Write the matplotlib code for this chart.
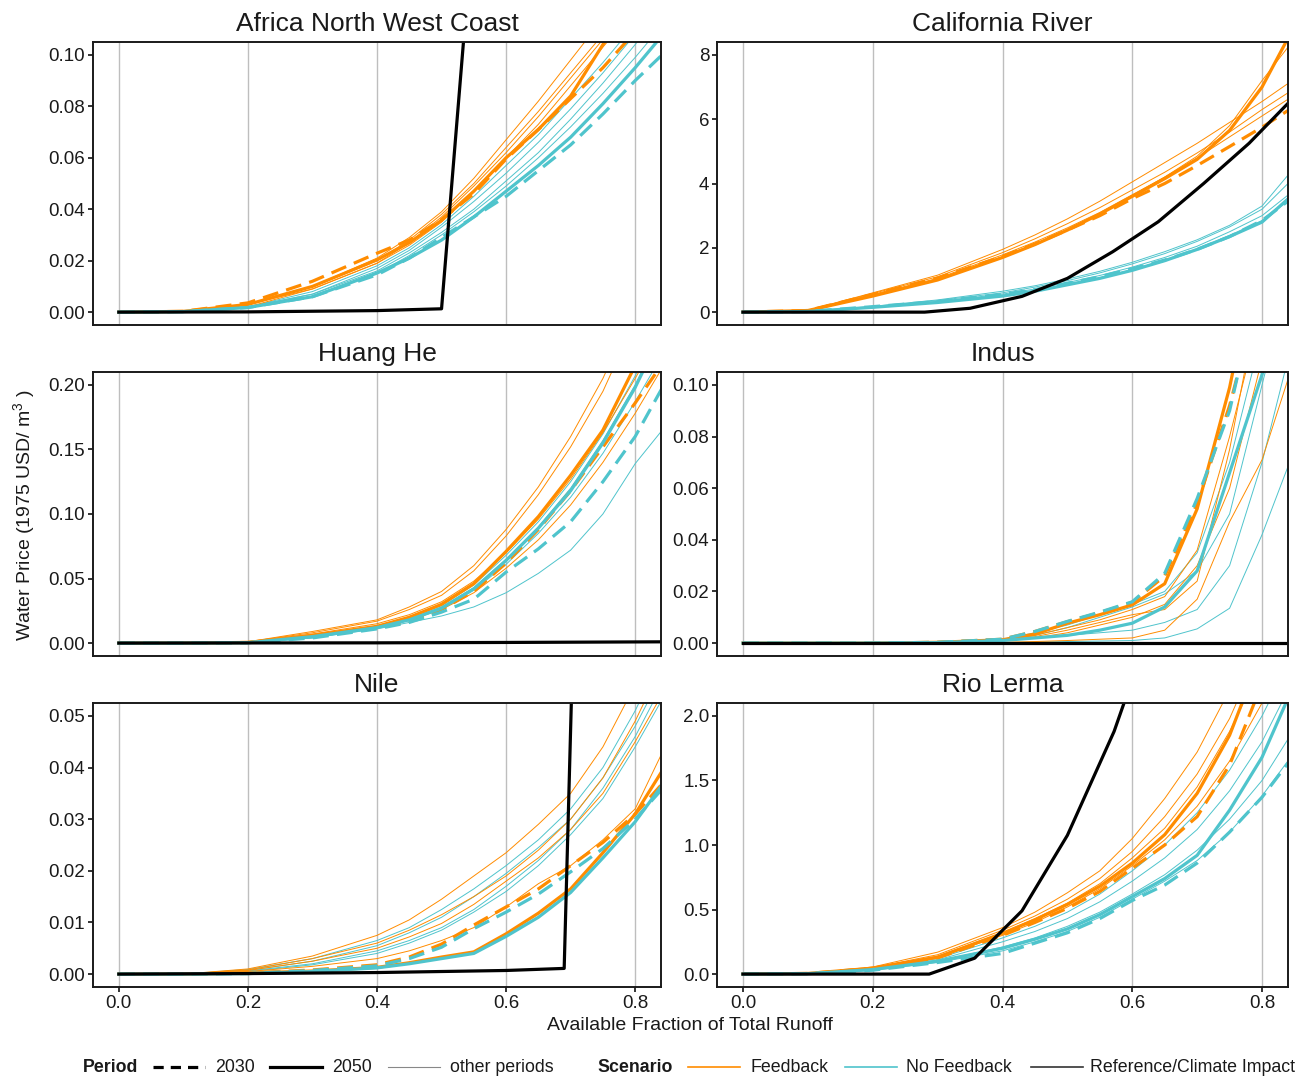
import matplotlib
matplotlib.use('Agg')
import matplotlib.pyplot as plt
from matplotlib.lines import Line2D
from matplotlib.ticker import FormatStrFormatter

plt.rcParams['font.family'] = ['Liberation Sans', 'DejaVu Sans']
plt.rcParams['mathtext.default'] = 'regular'

ORANGE = '#FF8C00'
CYAN = '#4FC4CC'

# available fraction of total runoff (shared by the coloured curves)
runoff = [0, 0.1, 0.2, 0.3, 0.4, 0.45, 0.5, 0.55, 0.6, 0.65, 0.7, 0.75, 0.8, 0.85]

basins = ['Africa North West Coast', 'California River', 'Huang He',
          'Indus', 'Nile', 'Rio Lerma']
y_top = [0.1, 8, 0.2, 0.1, 0.05, 2]
y_step = [0.02, 2, 0.05, 0.02, 0.01, 0.5]
y_fmt = ['%.2f', '%d', '%.2f', '%.2f', '%.2f', '%.1f']

## Africa North West Coast
afr_fb_2030 = [0, 0.0003, 0.0036, 0.012, 0.0229, 0.028, 0.036, 0.046, 0.0595, 0.071, 0.083, 0.095, 0.109, 0.122]
afr_fb_2050 = [0, 0.0003, 0.003, 0.010, 0.0203, 0.027, 0.0357, 0.047, 0.060, 0.071, 0.084, 0.104, 0.122, 0.14]
afr_fb_other = [
  [0, 0.0003, 0.003, 0.010, 0.020, 0.028, 0.038, 0.050, 0.064, 0.078, 0.093, 0.108, 0.125, 0.14],
  [0, 0.0003, 0.003, 0.010, 0.021, 0.029, 0.039, 0.052, 0.067, 0.082, 0.098, 0.114, 0.13, 0.15],
  [0, 0.0002, 0.003, 0.009, 0.019, 0.027, 0.037, 0.049, 0.062, 0.076, 0.091, 0.106, 0.122, 0.14],
  [0, 0.0002, 0.002, 0.009, 0.019, 0.026, 0.035, 0.047, 0.060, 0.073, 0.088, 0.103, 0.118, 0.135],
]
afr_nf_2030 = [0, 0.0002, 0.0018, 0.006, 0.0145, 0.021, 0.029, 0.037, 0.045, 0.055, 0.065, 0.077, 0.090, 0.102]
afr_nf_2050 = [0, 0.0002, 0.0018, 0.006, 0.0152, 0.021, 0.028, 0.037, 0.047, 0.057, 0.068, 0.081, 0.095, 0.110]
afr_nf_other = [
  [0, 0.0002, 0.002, 0.007, 0.016, 0.023, 0.031, 0.040, 0.051, 0.062, 0.075, 0.089, 0.104, 0.12],
  [0, 0.0002, 0.002, 0.007, 0.017, 0.024, 0.033, 0.043, 0.054, 0.066, 0.079, 0.093, 0.108, 0.124],
  [0, 0.0002, 0.002, 0.008, 0.018, 0.025, 0.034, 0.045, 0.057, 0.069, 0.083, 0.097, 0.112, 0.128],
  [0, 0.0002, 0.002, 0.006, 0.015, 0.022, 0.030, 0.039, 0.049, 0.060, 0.072, 0.085, 0.099, 0.114],
]
afr_ref_x = [0, 0.2, 0.4, 0.5, 0.55, 0.6]
afr_ref_y = [0, 0.0001, 0.0006, 0.0013, 0.154, 0.3]

## California River
cal_fb_2030 = [0, 0.05, 0.55, 1.06, 1.73, 2.12, 2.55, 3.0, 3.53, 4.0, 4.56, 5.15, 5.75, 6.4]
cal_fb_2050 = [0, 0.05, 0.5, 1.0, 1.7, 2.1, 2.55, 3.05, 3.6, 4.15, 4.75, 5.65, 7.0, 8.9]
cal_fb_other = [
  [0, 0.06, 0.6, 1.15, 1.95, 2.4, 2.9, 3.45, 4.05, 4.65, 5.25, 5.9, 6.55, 7.25],
  [0, 0.06, 0.58, 1.1, 1.85, 2.28, 2.75, 3.25, 3.8, 4.35, 4.95, 5.6, 6.3, 6.95],
  [0, 0.05, 0.55, 1.05, 1.78, 2.18, 2.62, 3.1, 3.65, 4.2, 4.8, 5.45, 6.1, 6.75],
  [0, 0.05, 0.52, 1.02, 1.72, 2.12, 2.57, 3.07, 3.62, 4.2, 4.85, 5.8, 7.2, 8.5],
]
cal_nf_2030 = [0, 0.02, 0.17, 0.33, 0.55, 0.7, 0.9, 1.1, 1.35, 1.62, 1.95, 2.35, 2.85, 3.6]
cal_nf_2050 = [0, 0.02, 0.15, 0.3, 0.5, 0.65, 0.85, 1.05, 1.3, 1.6, 1.95, 2.35, 2.8, 3.7]
cal_nf_other = [
  [0, 0.02, 0.18, 0.38, 0.65, 0.82, 1.03, 1.27, 1.55, 1.88, 2.25, 2.7, 3.3, 4.5],
  [0, 0.02, 0.17, 0.36, 0.6, 0.78, 0.98, 1.22, 1.5, 1.82, 2.2, 2.65, 3.2, 4.2],
  [0, 0.02, 0.16, 0.33, 0.56, 0.72, 0.92, 1.14, 1.4, 1.7, 2.05, 2.5, 3.0, 3.8],
  [0, 0.02, 0.15, 0.31, 0.52, 0.67, 0.86, 1.07, 1.32, 1.62, 1.97, 2.38, 2.85, 3.6],
]
cal_ref_x = [0, 0.28, 0.35, 0.43, 0.5, 0.57, 0.64, 0.71, 0.78, 0.85]
cal_ref_y = [0, 0, 0.12, 0.49, 1.05, 1.88, 2.81, 4.0, 5.25, 6.7]

## Huang He
hua_fb_2030 = [0, 0, 0.0005, 0.005, 0.012, 0.017, 0.026, 0.040, 0.062, 0.088, 0.118, 0.152, 0.186, 0.222]
hua_fb_2050 = [0, 0, 0.0005, 0.006, 0.013, 0.020, 0.030, 0.046, 0.071, 0.098, 0.130, 0.165, 0.215, 0.27]
hua_fb_other = [
  [0, 0, 0.001, 0.009, 0.018, 0.028, 0.040, 0.060, 0.088, 0.121, 0.160, 0.205, 0.26, 0.32],
  [0, 0, 0.001, 0.008, 0.017, 0.026, 0.037, 0.056, 0.083, 0.115, 0.152, 0.195, 0.25, 0.31],
  [0, 0, 0.0007, 0.007, 0.015, 0.022, 0.032, 0.048, 0.070, 0.096, 0.127, 0.163, 0.205, 0.25],
  [0, 0, 0.0005, 0.005, 0.012, 0.018, 0.026, 0.039, 0.058, 0.080, 0.107, 0.140, 0.178, 0.22],
]
hua_nf_2030 = [0, 0, 0.0003, 0.004, 0.011, 0.016, 0.024, 0.034, 0.055, 0.073, 0.094, 0.125, 0.16, 0.205]
hua_nf_2050 = [0, 0, 0.0003, 0.005, 0.012, 0.018, 0.027, 0.042, 0.064, 0.089, 0.118, 0.155, 0.198, 0.25]
hua_nf_other = [
  [0, 0, 0.0003, 0.004, 0.011, 0.016, 0.021, 0.028, 0.039, 0.054, 0.072, 0.100, 0.139, 0.17],
  [0, 0, 0.0004, 0.005, 0.013, 0.019, 0.028, 0.043, 0.065, 0.090, 0.120, 0.157, 0.20, 0.25],
  [0, 0, 0.0004, 0.005, 0.013, 0.020, 0.029, 0.045, 0.068, 0.094, 0.125, 0.162, 0.207, 0.26],
  [0, 0, 0.0003, 0.004, 0.012, 0.018, 0.026, 0.041, 0.061, 0.085, 0.113, 0.147, 0.187, 0.23],
]
hua_ref_x = [0, 0.4, 0.6, 0.85]
hua_ref_y = [0, 0.0002, 0.0005, 0.001]

## Indus
ind_fb_2030 = [0, 0, 0, 0.0003, 0.0015, 0.0045, 0.0083, 0.0118, 0.0158, 0.026, 0.054, 0.092, 0.14, 0.19]
ind_fb_2050 = [0, 0, 0, 0.0003, 0.0013, 0.0035, 0.0077, 0.011, 0.0148, 0.023, 0.052, 0.099, 0.16, 0.22]
ind_fb_other = [
  [0, 0, 0, 0, 0.0003, 0.0006, 0.001, 0.0015, 0.002, 0.005, 0.017, 0.047, 0.071, 0.11],
  [0, 0, 0, 0.0002, 0.001, 0.002, 0.004, 0.007, 0.010, 0.015, 0.030, 0.06, 0.11, 0.16],
  [0, 0, 0, 0.0002, 0.001, 0.003, 0.006, 0.009, 0.013, 0.018, 0.036, 0.08, 0.13, 0.18],
  [0, 0, 0, 0.0003, 0.001, 0.0025, 0.005, 0.008, 0.011, 0.013, 0.024, 0.075, 0.14, 0.2],
]
ind_nf_2030 = [0, 0, 0, 0.0003, 0.0015, 0.0045, 0.0084, 0.012, 0.016, 0.027, 0.056, 0.09, 0.145, 0.2]
ind_nf_2050 = [0, 0, 0, 0.0002, 0.001, 0.002, 0.003, 0.005, 0.0077, 0.014, 0.028, 0.066, 0.104, 0.15]
ind_nf_other = [
  [0, 0, 0, 0, 0.0002, 0.0004, 0.0006, 0.0008, 0.001, 0.002, 0.0055, 0.0135, 0.042, 0.075],
  [0, 0, 0, 0.0002, 0.001, 0.002, 0.003, 0.004, 0.005, 0.008, 0.013, 0.03, 0.07, 0.12],
  [0, 0, 0, 0.0002, 0.001, 0.003, 0.006, 0.010, 0.014, 0.019, 0.028, 0.05, 0.10, 0.15],
  [0, 0, 0, 0.0003, 0.0015, 0.004, 0.007, 0.011, 0.015, 0.020, 0.035, 0.07, 0.12, 0.17],
]
ind_ref_x = [0, 0.85]
ind_ref_y = [0, 0]

## Nile
nil_fb_2030 = [0, 0, 0.0002, 0.0008, 0.0018, 0.0033, 0.0058, 0.0095, 0.013, 0.0165, 0.021, 0.0255, 0.031, 0.038]
nil_fb_2050 = [0, 0, 0.0002, 0.0006, 0.0013, 0.0022, 0.0033, 0.0043, 0.0078, 0.0118, 0.0165, 0.0235, 0.031, 0.041]
nil_fb_other = [
  [0, 0, 0.001, 0.0035, 0.0075, 0.0105, 0.0145, 0.019, 0.0235, 0.029, 0.035, 0.044, 0.056, 0.07],
  [0, 0, 0.0008, 0.003, 0.006, 0.0085, 0.0115, 0.015, 0.019, 0.024, 0.030, 0.038, 0.049, 0.062],
  [0, 0, 0.0007, 0.0025, 0.005, 0.0072, 0.0098, 0.0135, 0.018, 0.0225, 0.028, 0.035, 0.045, 0.056],
  [0, 0, 0.0005, 0.0015, 0.003, 0.0045, 0.0065, 0.009, 0.013, 0.0175, 0.021, 0.026, 0.032, 0.045],
]
nil_nf_2030 = [0, 0, 0.0001, 0.0007, 0.0016, 0.003, 0.0052, 0.0088, 0.012, 0.0155, 0.0198, 0.0243, 0.030, 0.037]
nil_nf_2050 = [0, 0, 0.0001, 0.0005, 0.0012, 0.002, 0.003, 0.004, 0.0073, 0.011, 0.0158, 0.0225, 0.0295, 0.038]
nil_nf_other = [
  [0, 0, 0.0009, 0.003, 0.0065, 0.009, 0.0125, 0.0165, 0.021, 0.026, 0.032, 0.040, 0.051, 0.064],
  [0, 0, 0.0007, 0.0025, 0.0055, 0.008, 0.011, 0.015, 0.0195, 0.0245, 0.030, 0.038, 0.048, 0.06],
  [0, 0, 0.0006, 0.002, 0.0045, 0.0065, 0.009, 0.0125, 0.017, 0.022, 0.028, 0.036, 0.046, 0.058],
  [0, 0, 0.0005, 0.0018, 0.004, 0.006, 0.0085, 0.012, 0.016, 0.021, 0.027, 0.034, 0.044, 0.055],
]
nil_ref_x = [0, 0.2, 0.4, 0.6, 0.69, 0.75]
nil_ref_y = [0, 0.0001, 0.0003, 0.0007, 0.0011, 0.28]

## Rio Lerma
rio_fb_2030 = [0, 0.005, 0.045, 0.125, 0.30, 0.40, 0.51, 0.64, 0.82, 1.0, 1.22, 1.62, 2.25, 3.0]
rio_fb_2050 = [0, 0.005, 0.046, 0.13, 0.316, 0.42, 0.54, 0.68, 0.86, 1.08, 1.40, 1.85, 2.5, 3.3]
rio_fb_other = [
  [0, 0.006, 0.055, 0.17, 0.36, 0.48, 0.63, 0.80, 1.05, 1.36, 1.72, 2.2, 2.8, 3.5],
  [0, 0.006, 0.05, 0.15, 0.34, 0.45, 0.58, 0.74, 0.95, 1.22, 1.55, 1.98, 2.55, 3.2],
  [0, 0.005, 0.048, 0.14, 0.32, 0.43, 0.55, 0.70, 0.90, 1.13, 1.45, 1.88, 2.4, 3.1],
  [0, 0.005, 0.045, 0.13, 0.30, 0.40, 0.52, 0.66, 0.84, 1.04, 1.30, 1.65, 2.1, 2.7],
]
rio_nf_2030 = [0, 0.003, 0.03, 0.09, 0.16, 0.24, 0.32, 0.43, 0.57, 0.69, 0.86, 1.1, 1.37, 1.7]
rio_nf_2050 = [0, 0.003, 0.035, 0.1, 0.2, 0.27, 0.35, 0.46, 0.6, 0.74, 0.92, 1.27, 1.68, 2.25]
rio_nf_other = [
  [0, 0.004, 0.04, 0.12, 0.28, 0.37, 0.48, 0.62, 0.80, 1.00, 1.25, 1.58, 2.0, 2.5],
  [0, 0.004, 0.038, 0.11, 0.25, 0.33, 0.43, 0.56, 0.72, 0.9, 1.12, 1.42, 1.8, 2.3],
  [0, 0.003, 0.033, 0.1, 0.21, 0.28, 0.37, 0.48, 0.62, 0.77, 0.96, 1.2, 1.5, 1.9],
  [0, 0.003, 0.03, 0.09, 0.18, 0.25, 0.33, 0.44, 0.58, 0.72, 0.88, 1.1, 1.38, 1.72],
]
rio_ref_x = [0, 0.287, 0.357, 0.43, 0.5, 0.572, 0.643]
rio_ref_y = [0, 0, 0.123, 0.49, 1.075, 1.88, 2.9]

panels = [
  (afr_fb_2030, afr_fb_2050, afr_fb_other, afr_nf_2030, afr_nf_2050, afr_nf_other, afr_ref_x, afr_ref_y),
  (cal_fb_2030, cal_fb_2050, cal_fb_other, cal_nf_2030, cal_nf_2050, cal_nf_other, cal_ref_x, cal_ref_y),
  (hua_fb_2030, hua_fb_2050, hua_fb_other, hua_nf_2030, hua_nf_2050, hua_nf_other, hua_ref_x, hua_ref_y),
  (ind_fb_2030, ind_fb_2050, ind_fb_other, ind_nf_2030, ind_nf_2050, ind_nf_other, ind_ref_x, ind_ref_y),
  (nil_fb_2030, nil_fb_2050, nil_fb_other, nil_nf_2030, nil_nf_2050, nil_nf_other, nil_ref_x, nil_ref_y),
  (rio_fb_2030, rio_fb_2050, rio_fb_other, rio_nf_2030, rio_nf_2050, rio_nf_other, rio_ref_x, rio_ref_y),
]

W, H = 1309, 1078
THICK = 2.3
THIN = 0.7
DASH = (5, 2.6)

fig = plt.figure(figsize=(W / 100, H / 100), dpi=100)

cols = [(93, 661), (717, 1288)]
rows = [(42, 325), (372, 656), (703, 987)]

for i, basin in enumerate(basins):
  x0, x1 = cols[i % 2]
  y0, y1 = rows[i // 2]
  ax = fig.add_axes([x0 / W, 1 - y1 / H, (x1 - x0) / W, (y1 - y0) / H])
  fb30, fb50, fb_oth, nf30, nf50, nf_oth, rx, ry = panels[i]

  for ys in nf_oth:
    ax.plot(runoff, ys, color=CYAN, lw=THIN)
  for ys in fb_oth:
    ax.plot(runoff, ys, color=ORANGE, lw=THIN)
  ax.plot(runoff, fb50, color=ORANGE, lw=THICK, solid_joinstyle='round')
  ax.plot(runoff, fb30, color=ORANGE, lw=THICK, dashes=DASH)
  ax.plot(runoff, nf50, color=CYAN, lw=THICK, solid_joinstyle='round')
  ax.plot(runoff, nf30, color=CYAN, lw=THICK, dashes=DASH)
  ax.plot(rx, ry, color='black', lw=THICK)

  top = y_top[i]
  ax.set_xlim(-0.04, 0.84)
  ax.set_ylim(-0.05 * top, 1.05 * top)
  ax.set_xticks([0, 0.2, 0.4, 0.6, 0.8])
  n = int(round(top / y_step[i]))
  ax.set_yticks([k * y_step[i] for k in range(n + 1)])
  ax.yaxis.set_major_formatter(FormatStrFormatter(y_fmt[i]))
  ax.xaxis.set_major_formatter(FormatStrFormatter('%.1f'))
  ax.grid(axis='x', color='#BEBEBE', lw=1.0)
  ax.set_axisbelow(True)
  for s in ax.spines.values():
    s.set_linewidth(1.4)
    s.set_color('#1a1a1a')
  ax.tick_params(axis='both', direction='out', length=3.5, width=1.4,
                 color='#333333', labelsize=13.5, labelcolor='#1a1a1a', pad=2)
  if i < 4:
    ax.tick_params(axis='x', bottom=False, labelbottom=False)
  ax.annotate(basin, xy=(0.5, 1), xycoords='axes fraction', xytext=(0, 13),
              textcoords='offset points', ha='center', va='center',
              fontsize=19, color='#1a1a1a')

fig.text(690 / W, 1 - 1026 / H, 'Available Fraction of Total Runoff',
         ha='center', va='center', fontsize=14, color='#1a1a1a')
fig.text(24 / W, 1 - 515 / H, 'Water Price (1975 USD/ m$^{3}$ )', rotation=90,
         ha='center', va='center', fontsize=14, color='#1a1a1a')

# legend along the bottom
ly = 1 - 1067 / H
def leg_line(xa, xb, **kw):
  fig.add_artist(Line2D([xa / W, xb / W], [ly, ly], transform=fig.transFigure, **kw))
def leg_text(x, s, bold=False):
  fig.text(x / W, ly, s, ha='left', va='center', fontsize=12.8,
           fontweight='bold' if bold else 'normal', color='#1a1a1a')

leg_text(83, 'Period', True)
leg_line(153, 205, color='black', lw=THICK, dashes=(3.2, 2.2))
leg_text(215, '2030')
leg_line(270, 322, color='black', lw=THICK)
leg_text(332, '2050')
leg_line(388, 440, color='#888888', lw=0.8)
leg_text(450, 'other periods')
leg_text(597, 'Scenario', True)
leg_line(688, 740, color=ORANGE, lw=1.2)
leg_text(750, 'Feedback')
leg_line(845, 897, color=CYAN, lw=1.2)
leg_text(906, 'No Feedback')
leg_line(1031, 1083, color='#333333', lw=1.2)
leg_text(1090, 'Reference/Climate Impact')

fig.savefig('out.png', dpi=100)
